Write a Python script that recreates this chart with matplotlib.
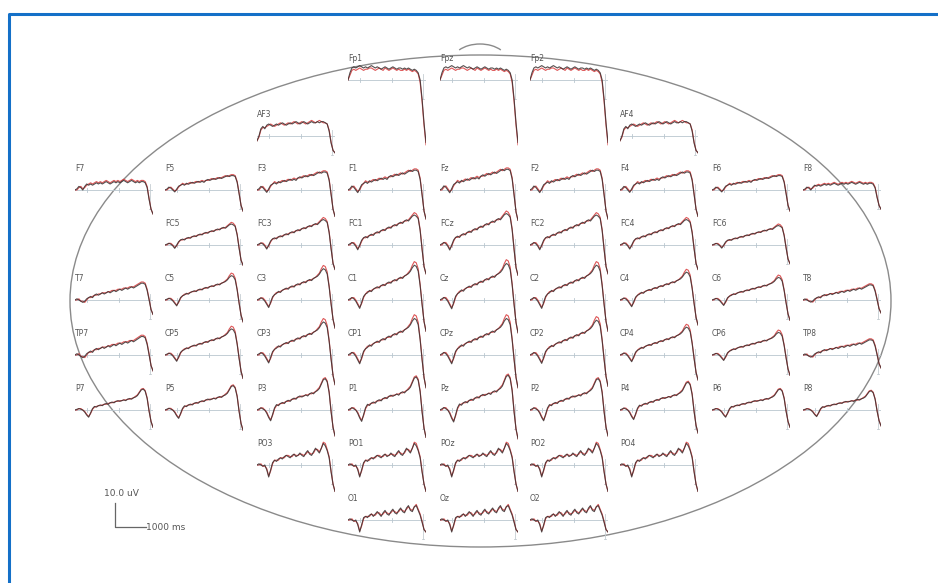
import numpy as np
import matplotlib
matplotlib.use("Agg")
import matplotlib.pyplot as plt
from matplotlib.patches import Ellipse, Arc

# time axis of every channel plot (ms), movement onset at 0
times = np.arange(-2400, 101, 62.5)

# waveform shapes (uV), black = condition 1, red = condition 2
shape_black = {
    "fp": [0, 3, 5, 5.5, 5, 5.5, 6, 5.5, 5, 5.5, 5, 5.5, 6, 5.5, 5, 5.5, 5, 4.5, 5, 5.5, 5,
           4.5, 5, 5.5, 5, 4.5, 5, 5, 4.5, 5, 4.5, 5, 4.5, 4, 4.5, 4, 3, 0, -8, -18, -26],
    "af": [-2, 0, 3, 4, 3, 4.5, 5, 4.5, 4, 4.5, 5, 4.5, 5, 5.5, 5, 4.5, 5, 5.5, 5, 5.5, 6,
           5.5, 5, 5.5, 6, 5.5, 5, 5.5, 6, 5.5, 5.5, 6, 5.5, 6, 6, 5.5, 5, 2, -3, -6, -7],
    "latf": [0, 0.5, 1.5, 1, 0, 1.5, 2.5, 2, 2.5, 2, 2.5, 3, 2.5, 3, 2.5, 3, 3.5, 3, 2.5, 3, 3.5,
             3, 3.5, 3, 3.5, 4, 3.5, 3, 3.5, 4, 3.5, 3, 3.5, 3, 3.5, 3.5, 3, 1, -4, -8, -10],
    "f": [0, 0.5, 1.5, 1, 0, -1, 0.5, 2, 2.5, 3, 2.5, 3.5, 3, 3.5, 4, 3.5, 4, 4.5, 4, 4.5, 4,
          5, 5.5, 5, 5.5, 6, 5.5, 6, 6.5, 6, 6.5, 7, 7.5, 7, 7.5, 7.5, 7, 4, -2, -8, -11],
    "fc": [0, 0.5, 1, 0.5, -0.5, -2, 0, 2, 3, 3.5, 3, 4, 4.5, 4, 5, 5.5, 5, 6, 6.5, 6, 7,
           7.5, 7, 8, 8.5, 8, 9, 9.5, 9, 10, 10.5, 10, 11, 12, 12.5, 12, 11, 6, -2, -9, -12],
    "c": [0, 0.5, 1, 0.5, -0.5, -2, -3.5, -1, 1.5, 2.5, 3, 4, 3.5, 4.5, 5, 5.5, 5, 6, 6.5, 6, 7,
          7.5, 7, 8, 8.5, 8, 9, 9.5, 9, 10, 10.5, 11, 12, 13.5, 14.5, 14, 12, 6, -2, -9, -13],
    "t": [0, 0.5, 0, -0.5, -1, -0.5, 0.5, 1, 1.5, 1, 2, 2.5, 2, 2.5, 3, 2.5, 3, 3.5, 3, 3.5, 4,
          3.5, 4, 4.5, 4, 4.5, 5, 4.5, 5, 5.5, 5, 5.5, 6, 6.5, 7, 7, 6.5, 4, 0, -4, -6],
    "p": [0, 0.5, 1, 0.5, 0, -1.5, -3.5, -5, -2, 1, 2.5, 2, 3, 3.5, 3, 4, 4.5, 4, 5, 5.5, 5,
          6, 6.5, 6, 6.5, 7, 6.5, 7.5, 8, 7.5, 8.5, 9, 10, 12, 14, 14.5, 13, 8, -1, -8, -12],
    "po": [0, 0.5, 0, -0.5, 0, -2, -5, -2, 1, 2, 1.5, 2.5, 3, 2.5, 3.5, 4, 3.5, 3, 4, 4.5, 3.5,
           4, 5, 4, 3.5, 5, 6, 4.5, 4, 5.5, 7, 6, 5, 7, 9, 8, 6, 3, -3, -8, -11],
    "o": [0, 0.5, 0, -0.5, 0, -2, -5, -2, 1, 1.5, 1, 2, 2.5, 1.5, 2.5, 3.5, 2.5, 1.5, 3, 4, 2.5,
          2, 3.5, 4.5, 3, 2.5, 4, 5, 3.5, 3, 5, 6, 4, 3.5, 5.5, 6, 4, 2, -1, -4, -5],
}
shape_red = {
    "fp": [0, 2, 4, 4.5, 4, 4.5, 5, 4.5, 4, 4.5, 4.5, 5, 5, 4.5, 4, 4.5, 5, 4.5, 4, 5, 4.5,
           4, 4.5, 5, 4.5, 4, 4.5, 4, 4, 4.5, 4, 4.5, 4, 3.5, 4, 3.5, 2.5, -1, -9, -19, -27],
    "af": [-2, -0.5, 2.5, 3.5, 3.5, 4, 4.5, 5, 4.5, 4, 4.5, 5, 5.5, 5, 4.5, 5, 5.5, 5, 5.5, 6, 5.5,
           5, 5.5, 6, 5.5, 5, 5.5, 6, 6.5, 6, 5.5, 6, 6.5, 6, 5.5, 5.5, 5, 2.5, -2.5, -6, -7],
    "latf": [0, 0, 1, 1.5, 0.5, 1, 2, 2.5, 3, 2.5, 3, 3.5, 3, 3.5, 3, 3.5, 4, 3.5, 3, 3.5, 4,
             3.5, 4, 3.5, 4, 4.5, 4, 3.5, 4, 4.5, 4, 3.5, 4, 3.5, 4, 4, 3.5, 1.5, -3.5, -8, -10],
    "f": [0, 0, 1, 1.5, 0.5, -0.5, 0, 1.5, 2.5, 3.5, 3, 3, 3.5, 4, 3.5, 4, 4.5, 4, 4.5, 5, 4.5,
          5, 5, 5.5, 6, 5.5, 6, 6.5, 6, 6.5, 7, 7.5, 7, 7.5, 8, 8, 7.5, 4.5, -1.5, -8, -11],
    "fc": [0, 0, 1, 1, 0, -1.5, -0.5, 1.5, 3, 3, 3.5, 4, 4, 4.5, 5, 5, 5.5, 6, 6, 6.5, 7,
           7, 7.5, 8, 8, 8.5, 9, 9, 9.5, 10, 10, 10.5, 11.5, 12.5, 13.5, 13, 11.5, 6.5, -1.5, -9, -12],
    "c": [0, 0, 1, 1, 0, -1.5, -3, -1.5, 1, 2.5, 3.5, 3.5, 4, 4.5, 5, 5, 5.5, 6, 6, 6.5, 7,
          7, 7.5, 8, 8, 8.5, 9, 9, 9.5, 10, 10.5, 11.5, 12.5, 14.5, 16, 15.5, 13, 6.5, -1.5, -9, -13],
    "t": [0, 0, 0.5, -0.5, -0.5, -1, 0, 1, 1, 1.5, 2, 2, 2.5, 2.5, 3, 3, 3, 3.5, 3.5, 4, 4,
          4, 4.5, 4.5, 4.5, 5, 5, 5, 5.5, 5.5, 5.5, 6, 6.5, 7, 7.5, 7.5, 7, 4.5, 0.5, -4, -6],
    "p": [0, 0, 1, 1, 0, -1, -3, -4.5, -2.5, 0.5, 2, 2.5, 3, 3, 3.5, 4, 4, 4.5, 5, 5, 5.5,
          6, 6, 6.5, 6.5, 7, 7, 7.5, 7.5, 8, 8.5, 9.5, 10.5, 12.5, 14.5, 15, 13.5, 8.5, -0.5, -8, -12],
    "po": [0, 0, 0.5, -0.5, -0.5, -1.5, -4.5, -2.5, 0.5, 2, 2, 2, 3, 3, 3, 4, 4, 3.5, 3.5, 4.5, 4,
           4, 4.5, 4.5, 4, 4.5, 5.5, 5, 4.5, 5, 6.5, 6.5, 5.5, 7, 9.5, 9, 6.5, 3.5, -2.5, -8, -11],
    "o": [0, 0, 0.5, -0.5, -0.5, -1.5, -4.5, -2.5, 0.5, 1.5, 1.5, 1.5, 2.5, 2, 2, 3, 3, 2, 2.5, 3.5, 3,
          2.5, 3, 4, 3.5, 3, 3.5, 4.5, 4, 3.5, 4.5, 5.5, 4.5, 4, 5.5, 6.5, 4.5, 2.5, -0.5, -4, -5],
}

# electrode layout: name, grid row, grid column, shape, amplitude scale
chan_names = ["Fp1", "Fpz", "Fp2",
              "AF3", "AF4",
              "F7", "F5", "F3", "F1", "Fz", "F2", "F4", "F6", "F8",
              "FC5", "FC3", "FC1", "FCz", "FC2", "FC4", "FC6",
              "T7", "C5", "C3", "C1", "Cz", "C2", "C4", "C6", "T8",
              "TP7", "CP5", "CP3", "CP1", "CPz", "CP2", "CP4", "CP6", "TP8",
              "P7", "P5", "P3", "P1", "Pz", "P2", "P4", "P6", "P8",
              "PO3", "PO1", "POz", "PO2", "PO4",
              "O1", "Oz", "O2"]
chan_rows = [0] * 3 + [1] * 2 + [2] * 9 + [3] * 7 + [4] * 9 + [5] * 9 + [6] * 9 + [7] * 5 + [8] * 3
chan_cols = [3, 4, 5,
             2, 6,
             0, 1, 2, 3, 4, 5, 6, 7, 8,
             1, 2, 3, 4, 5, 6, 7,
             0, 1, 2, 3, 4, 5, 6, 7, 8,
             0, 1, 2, 3, 4, 5, 6, 7, 8,
             0, 1, 2, 3, 4, 5, 6, 7, 8,
             2, 3, 4, 5, 6,
             3, 4, 5]
chan_shapes = ["fp"] * 3 + ["af"] * 2 + ["latf"] + ["f"] * 7 + ["latf"] + ["fc"] * 7 \
    + ["t"] + ["c"] * 7 + ["t"] + ["t"] + ["c"] * 7 + ["t"] + ["p"] * 9 + ["po"] * 5 + ["o"] * 3
chan_scale = [1, 1, 1,
              1, 1,
              1, 0.8, 1, 1.1, 1.15, 1.1, 1, 0.8, 0.8,
              0.7, 0.85, 1, 1.05, 1, 0.85, 0.65,
              1, 0.7, 0.9, 1, 1.05, 1, 0.8, 0.65, 0.9,
              1.1, 0.75, 0.95, 1.05, 1.05, 1, 0.8, 0.65, 0.9,
              0.6, 0.7, 0.9, 0.95, 1, 0.9, 0.8, 0.6, 0.55,
              1, 1, 1, 1, 1,
              1, 1, 1]

W, H = 938, 583
col_x = [75, 165, 257, 348, 440, 530, 620, 712, 803]
row_y = [80, 136, 190, 245, 300, 355, 410, 465, 520]
plot_w = 78
px_per_uv = 2.4
ymin, ymax = -30, 18

fig = plt.figure(figsize=(W / 100, H / 100), dpi=100)
fig.patch.set_facecolor("white")

# background axes in pixel units: frame, head outline, scale bar
bg = fig.add_axes([0, 0, 1, 1])
bg.set_xlim(0, W)
bg.set_ylim(H, 0)
bg.axis("off")
bg.plot([9, 9, W], [H, 14, 14], color="#1470c8", lw=2.2, solid_capstyle="butt")
bg.add_patch(Ellipse((480.5, 301), 821, 492, fill=False, ec="#8a8a8a", lw=1.0))
bg.add_patch(Arc((480, 62), 56, 36, theta1=210, theta2=330, ec="#8a8a8a", lw=1.0))
bg.plot([115, 115, 146], [503, 527, 527], color="#666666", lw=0.9)
bg.text(104, 494, "10.0 uV", fontsize=6.5, color="#555555", va="center")
bg.text(146, 527, "1000 ms", fontsize=6.5, color="#555555", va="center")

for i, name in enumerate(chan_names):
    x0 = col_x[chan_cols[i]]
    yb = row_y[chan_rows[i]]
    top_px = yb - ymax * px_per_uv
    h_px = (ymax - ymin) * px_per_uv
    ax = fig.add_axes([x0 / W, 1 - (top_px + h_px) / H, plot_w / W, h_px / H])
    ax.set_xlim(times[0], times[-1])
    ax.set_ylim(ymin, ymax)
    ax.axis("off")
    ax.patch.set_alpha(0)

    # baseline with time ticks and the y axis at t = 0
    ax.plot([times[0], times[-1]], [0, 0], color="#b9c6cf", lw=0.6)
    for tk in [-2000, -1000]:
        ax.plot([tk, tk], [-0.8, 0.8], color="#b9c6cf", lw=0.6)
    ax.plot([0, 0], [2.5, -8], color="#c5cdd2", lw=0.6)
    ax.plot([-40, 40], [-8, -8], color="#c5cdd2", lw=0.6)

    s = chan_scale[i]
    red = np.array(shape_red[chan_shapes[i]]) * s
    blk = np.array(shape_black[chan_shapes[i]]) * s
    ax.plot(times, red, color="#d8393a", lw=0.8, alpha=0.85)
    ax.plot(times, blk, color="#3a3030", lw=0.8, alpha=0.85)
    ax.text(times[0], 9, name, fontsize=5.5, color="#555555", va="center", ha="left")

fig.savefig("out.png", dpi=100, facecolor="white")
